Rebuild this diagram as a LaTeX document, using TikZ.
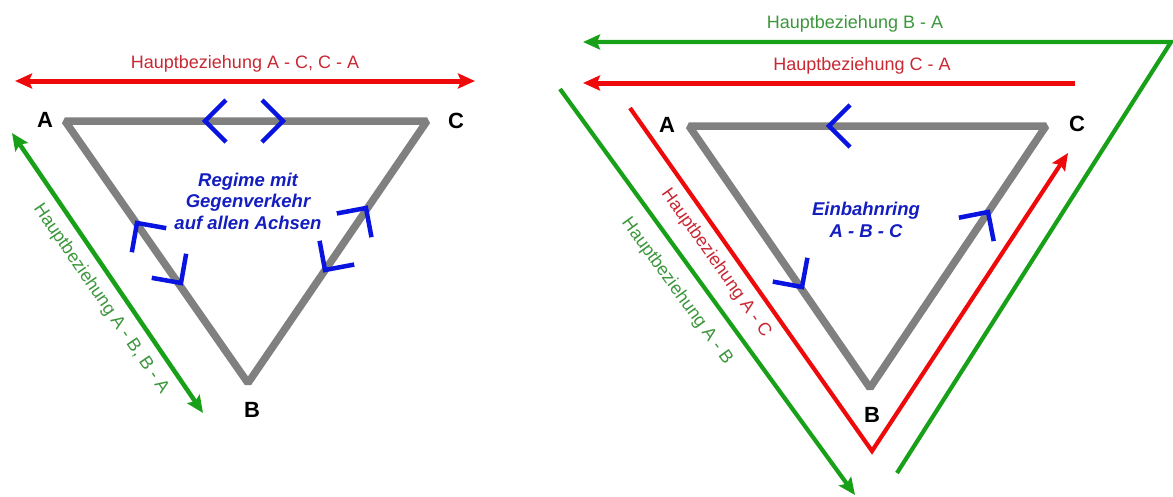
\documentclass[tikz,border=0pt]{standalone}
\usepackage{fontspec}
\setmainfont{Liberation Sans}
\usetikzlibrary{arrows.meta}
\definecolor{tri}{RGB}{128,128,128}
\definecolor{redline}{RGB}{238,10,10}
\definecolor{redtext}{RGB}{200,40,50}
\definecolor{greenline}{RGB}{24,160,24}
\definecolor{greentext}{RGB}{60,150,60}
\definecolor{blueline}{RGB}{10,20,225}
\definecolor{bluetext}{RGB}{20,30,190}
\tikzset{
  triline/.style={draw=tri, line width=7.5pt, line join=bevel},
  redarrow/.style={draw=redline, line width=5pt, line join=miter},
  redthin/.style={draw=redline, line width=4.2pt, line join=miter},
  greenarrow/.style={draw=greenline, line width=4.5pt, line join=miter},
  tip/.style={-{Stealth[length=17pt,width=15pt,inset=3pt]}},
  tips/.style={{Stealth[length=17pt,width=15pt,inset=3pt]}-{Stealth[length=17pt,width=15pt,inset=3pt]}},
  chevline/.style={draw=blueline, line width=4.5pt, line join=miter},
  chev/.pic={\draw[chevline] (-21,-21) -- (0,0) -- (-21,21);},
  vlabel/.style={font=\fontsize{22}{24}\selectfont\bfseries, inner sep=0pt},
  rellabel/.style={font=\fontsize{18}{20}\selectfont, inner sep=0pt},
  bluelabel/.style={font=\fontsize{18.5}{21.5}\selectfont\bfseries\itshape, text=bluetext, align=center, inner sep=0pt},
}
\begin{document}
\begin{tikzpicture}[x=1pt,y=-1pt]
\useasboundingbox (0,0) rectangle (1173,496);
% ---------------- left diagram ----------------
\coordinate (lA) at (65,121);
\coordinate (lC) at (427,121);
\coordinate (lB) at (248,383);
\draw[triline] (lA) -- (lC) -- (lB) -- cycle;
\node[vlabel] (lAl) at (45,120) {A};
\node[vlabel] (lCl) at (456,121) {C};
\node[vlabel] (lBl) at (252,410) {B};
% red double arrow
\coordinate (lr1) at (15,81);
\coordinate (lr2) at (475,81);
\draw[redarrow, tips] (lr1) -- (lr2);
\node[rellabel, text=redtext, anchor=base] (lrt) at (245,68) {Hauptbeziehung A - C, C - A};
% green double arrow
\coordinate (lg1) at (12,133);
\coordinate (lg2) at (203,413);
\draw[greenarrow, tips] (lg1) -- (lg2);
\node[rellabel, text=greentext, rotate=-55.6] (lgt) at (101,299) {Hauptbeziehung A - B, B - A};
% chevrons
\path (205,121) pic[rotate=180] {chev};
\path (283,121) pic[rotate=0] {chev};
\path (137,223) pic[rotate=125] {chev};
\path (181,283) pic[rotate=-55] {chev};
\path (366,208) pic[rotate=55.6] {chev};
\path (325,270) pic[rotate=-124.4] {chev};
\node[bluelabel] (lbt) at (248,201) {Regime mit\\Gegenverkehr\\auf allen Achsen};
% ---------------- right diagram ----------------
\coordinate (rA) at (689,126);
\coordinate (rC) at (1046,126);
\coordinate (rB) at (870,388);
\draw[triline] (rA) -- (rC) -- (rB) -- cycle;
\node[vlabel] (rAl) at (667,125) {A};
\node[vlabel] (rCl) at (1077,124) {C};
\node[vlabel] (rBl) at (872,415) {B};
% green B - A
\coordinate (rg1) at (897,473);
\coordinate (rg2) at (1171,42);
\coordinate (rg3) at (583,42);
\draw[greenarrow, line width=4.2pt, tip] (rg1) -- (rg2) -- (rg3);
\node[rellabel, text=greentext, anchor=base] (rgt) at (855,28) {Hauptbeziehung B - A};
% red C - A
\coordinate (rr1) at (1075,83);
\coordinate (rr2) at (583,83);
\draw[redarrow, tip] (rr1) -- (rr2);
\node[rellabel, text=redtext, anchor=base] (rrt) at (862,70) {Hauptbeziehung C - A};
% red A - C
\coordinate (rac1) at (630,108);
\coordinate (rac2) at (872,451);
\coordinate (rac3) at (1068,153);
\draw[redthin, tip] (rac1) -- (rac2) -- (rac3);
\node[rellabel, text=redtext, rotate=-54.7] (ract) at (716,263) {Hauptbeziehung A - C};
% green A - B
\coordinate (rab1) at (560,89);
\coordinate (rab2) at (855,495);
\draw[greenarrow, line width=4.2pt, tip] (rab1) -- (rab2);
\node[rellabel, text=greentext, rotate=-54] (rabt) at (677,291) {Hauptbeziehung A - B};
% chevrons
\path (829,126) pic[rotate=180] {chev};
\path (802,287) pic[rotate=-55.5] {chev};
\path (988,212) pic[rotate=56.1] {chev};
\node[bluelabel] (rbt) at (866,220) {Einbahnring\\A - B - C};
\end{tikzpicture}
\end{document}
